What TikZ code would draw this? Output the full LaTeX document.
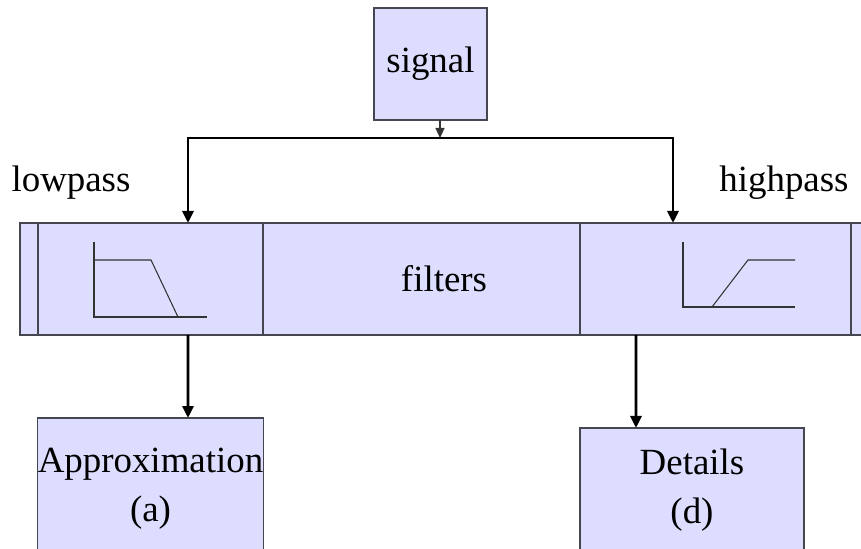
\documentclass[tikz,border=0pt]{standalone}
\usepackage{fontspec}
\setmainfont{Liberation Serif}
\usetikzlibrary{arrows.meta, positioning}

\definecolor{boxfill}{RGB}{221,221,255}
\definecolor{boxline}{RGB}{70,70,80}

\begin{document}
\begin{tikzpicture}[
    box/.style={draw=boxline, fill=boxfill, line width=0.6pt, rectangle, inner sep=0pt, outer sep=0pt, align=center, font=\fontsize{21}{28}\selectfont},
    cell/.style={box, minimum height=2.24cm},
    lbl/.style={font=\fontsize{21}{28}\selectfont, inner sep=0pt},
    arrow/.style={-{Triangle[length=0.24cm, width=0.22cm]}, line width=1.7pt},
    tap/.style={-{Triangle[length=0.2cm, width=0.18cm]}, line width=0.7pt, draw=black!80},
    response/.style={line width=0.6pt, draw=black!80}
]
    \useasboundingbox (0,0) rectangle (17.22,10.96);
    \clip (0,0) rectangle (17.22,10.96);

    % Input signal
    \node[box, minimum width=2.26cm, minimum height=2.24cm] (signal) at (8.61,9.68) {signal};

    % Filter bank strip
    \node[cell, minimum width=0.36cm] (leftcap) at (0.58,5.38) {};
    \node[cell, minimum width=4.5cm, right=0cm of leftcap] (lpcell) {};
    \node[cell, minimum width=6.34cm, right=0cm of lpcell] (midcell) {};
    \node[cell, minimum width=5.42cm, right=0cm of midcell] (hpcell) {};
    \node[cell, minimum width=0.6cm, right=0cm of hpcell] (rightcap) {};
    \node[lbl] (filt) at (8.88,5.38) {filters};

    % Filter responses
    \draw[response] (1.88,6.12) -- (1.88,4.62) -- (4.14,4.62);
    \draw[response] (1.88,5.76) -- (3.02,5.76) -- (3.56,4.62);
    \draw[response] (13.66,6.12) -- (13.66,4.82) -- (15.90,4.82);
    \draw[response] (14.24,4.82) -- (14.96,5.76) -- (15.90,5.76);

    % Branch labels
    \node[lbl] (lowlbl) at (1.42,7.30) {lowpass};
    \node[lbl] (highlbl) at (15.68,7.30) {highpass};

    % Outputs
    \node[box, minimum width=4.5cm, minimum height=2.84cm] (approx) at (3.01,1.18) {Approximation\\(a)};
    \node[box, minimum width=4.48cm, minimum height=2.48cm] (details) at (13.84,1.16) {Details\\(d)};

    % Arrows
    \coordinate (split) at (8.80,8.20);
    \draw[tap] ([xshift=0.19cm]signal.south) -- (split);
    \draw[arrow] (split) -| ([xshift=0.75cm]lpcell.north);
    \draw[arrow] (split) -| ([xshift=-0.85cm]hpcell.north);
    \draw[arrow] ([xshift=0.75cm]lpcell.south) -- ([xshift=0.75cm]approx.north);
    \draw[arrow] ([xshift=-1.59cm]hpcell.south) -- ([xshift=-1.12cm]details.north);

\end{tikzpicture}
\end{document}
